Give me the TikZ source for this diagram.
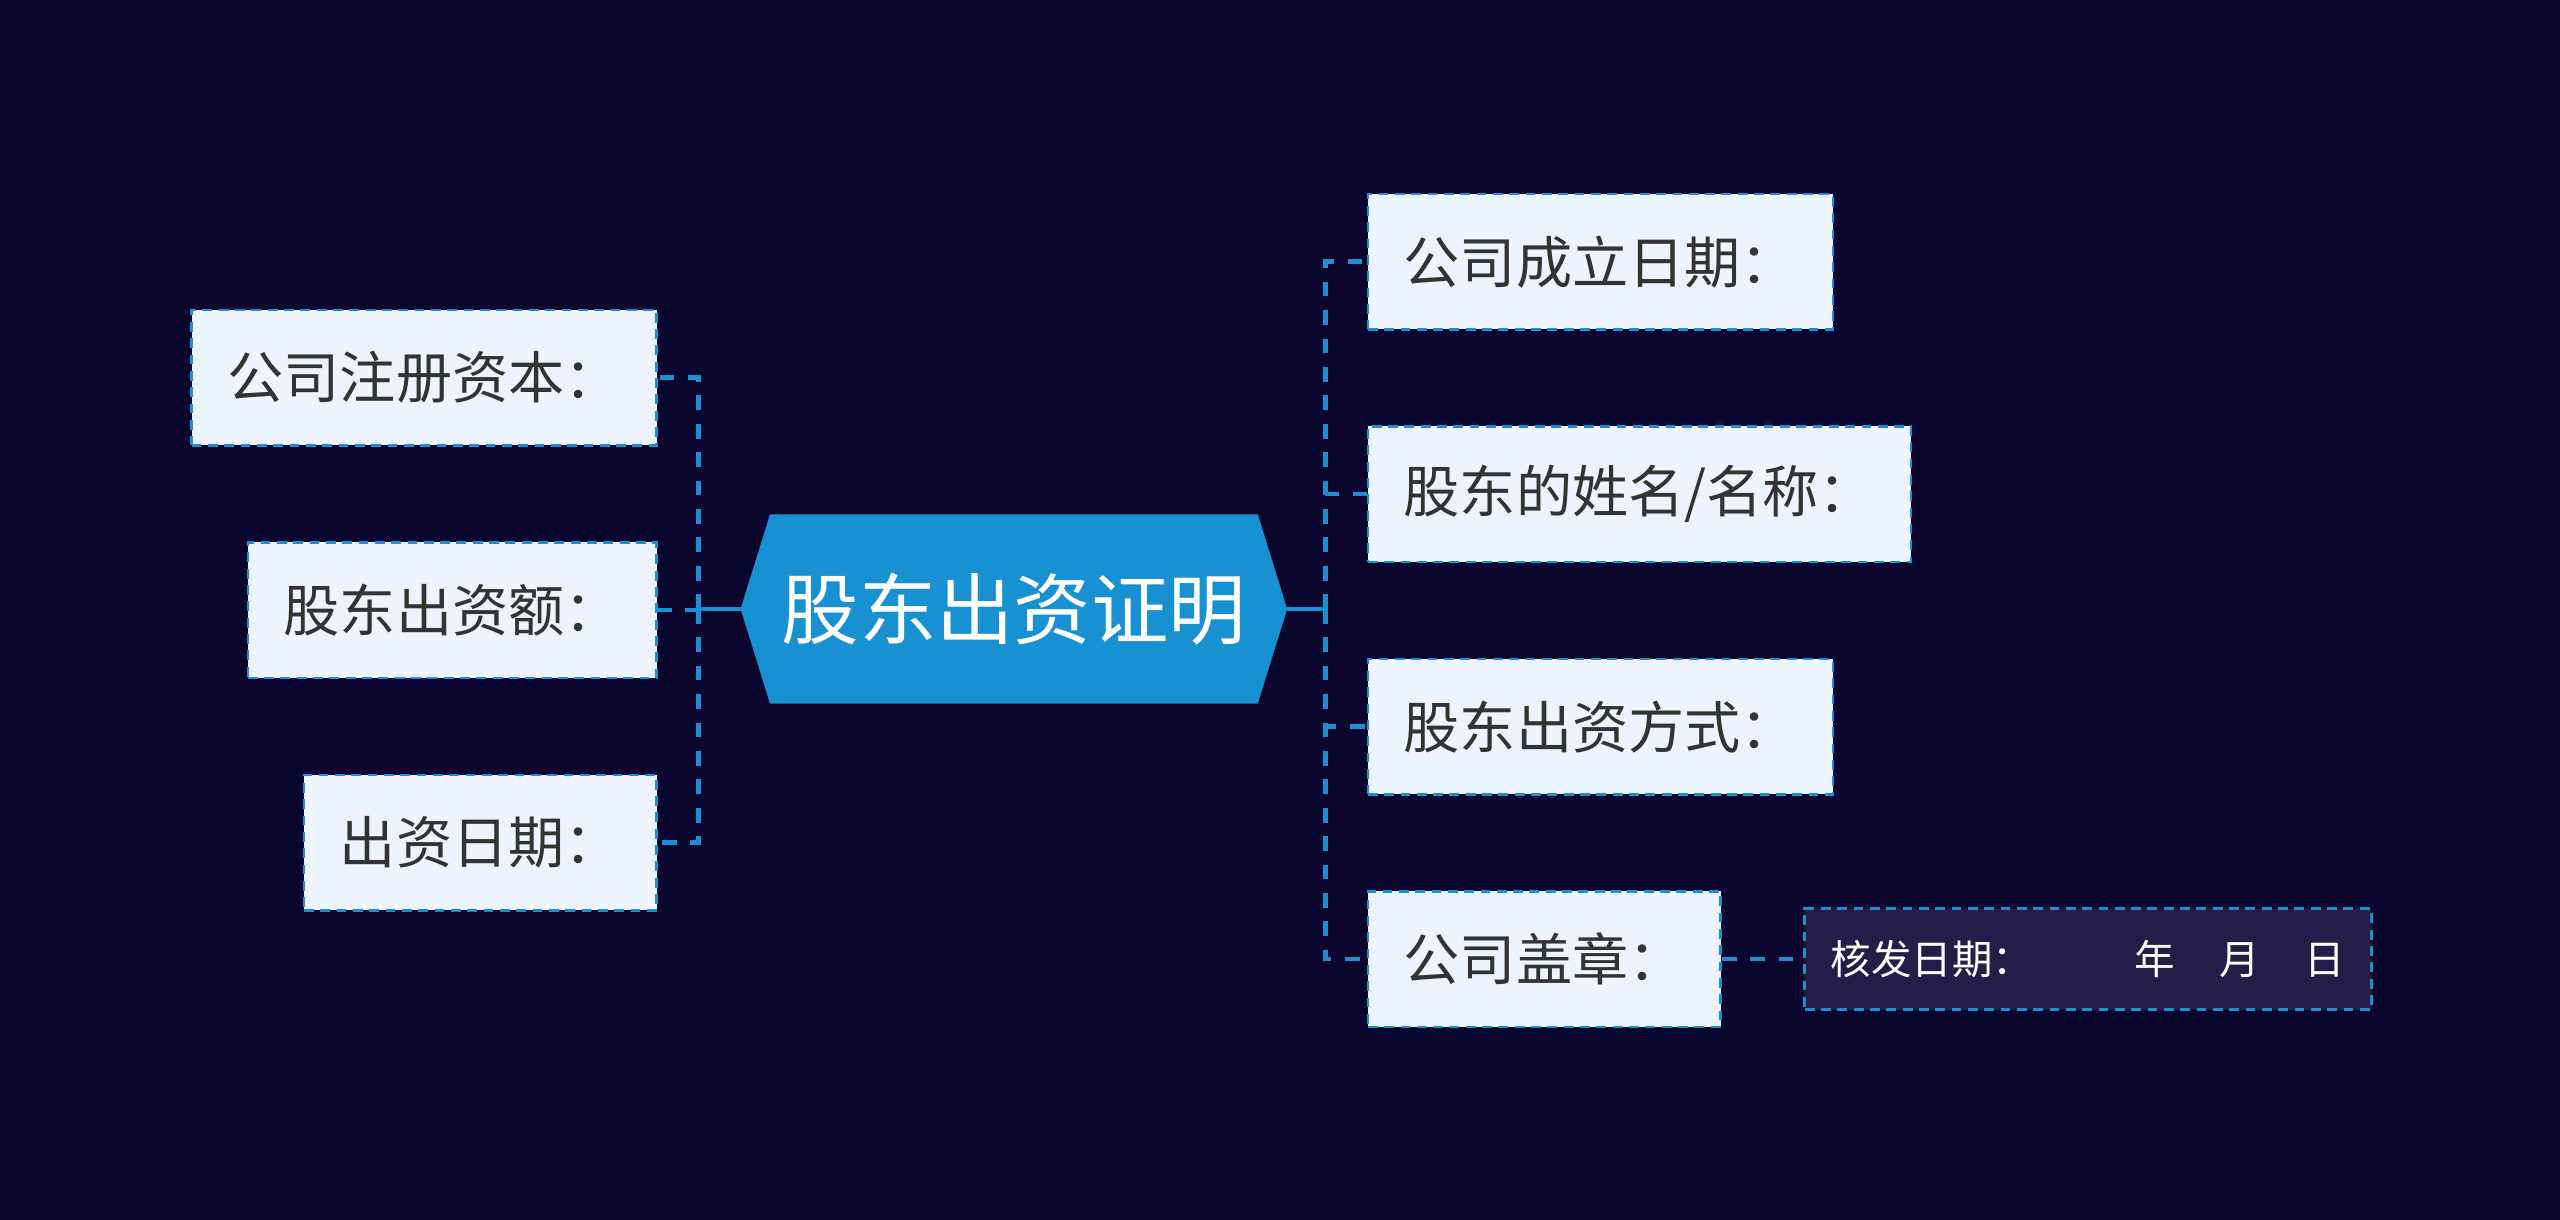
\documentclass[tikz,border=0pt]{standalone}
\usepackage{fontspec}
\setmainfont{Noto Sans CJK SC}
\usetikzlibrary{positioning,backgrounds}
\definecolor{bgnavy}{HTML}{0A062E}
\definecolor{linkblue}{HTML}{1A8FD4}
\definecolor{leaffill}{HTML}{EEF4FD}
\definecolor{leaftext}{HTML}{333333}
\definecolor{rootfill}{HTML}{1891D2}
\definecolor{notefill}{HTML}{221E48}
\tikzset{
  root/.style={rectangle,minimum width=149pt,minimum height=57.5pt,inner sep=0pt,
    text=white,font=\fontsize{23.7}{28}\selectfont},
  leaf/.style={rectangle,draw=linkblue,fill=leaffill,text=leaftext,line width=0.8pt,
    dash pattern=on 3pt off 2pt,minimum height=41.5pt,inner xsep=11pt,
    font=\fontsize{17.2}{20}\selectfont},
  note/.style={rectangle,draw=linkblue,fill=notefill,text=white,line width=0.8pt,
    dash pattern=on 3pt off 2pt,minimum height=31pt,inner xsep=8pt,
    font=\fontsize{12.4}{15}\selectfont},
  link/.style={draw=linkblue,line width=1.4pt,dash pattern=on 4.5pt off 4.2pt},
  stem/.style={draw=linkblue,line width=1.4pt}
}

\begin{document}
\begin{tikzpicture}[x=0.5pt,y=-0.5pt]
  \useasboundingbox (0,0) rectangle (1568,747);
  \node[root] (root) at (621,373) {股东出资证明};
  \coordinate (rootW) at ([xshift=-9pt]root.west);
  \coordinate (rootE) at ([xshift=9pt]root.east);
  \coordinate (lj) at (428,373);
  \coordinate (rj) at (812,373);

  % left side
  \node[leaf,anchor=north east] (capital) at (403,189) {公司注册资本：};
  \node[leaf,below=28.9pt of capital.south east,anchor=north east] (amount) {股东出资额：};
  \node[leaf,below=28.9pt of amount.south east,anchor=north east] (paydate) {出资日期：};

  % right side
  \node[leaf,anchor=north west] (founded) at (837,118) {公司成立日期：};
  \node[leaf,below=28.9pt of founded.south west,anchor=north west] (holder) {股东的姓名/名称：};
  \node[leaf,below=28.9pt of holder.south west,anchor=north west] (method) {股东出资方式：};
  \node[leaf,below=28.9pt of method.south west,anchor=north west] (seal) {公司盖章：};
  \node[note,right=25pt of seal] (issued) {核发日期：\hspace{2.5em}年\hspace{1.1em}月\hspace{1.1em}日};

  \begin{scope}[on background layer]
    \fill[bgnavy] (0,0) rectangle (1568,747);
    \fill[rootfill] (root.north west) -- (root.north east) -- (rootE)
      -- (root.south east) -- (root.south west) -- (rootW) -- cycle;
  \end{scope}

  \draw[stem] (rootW) -- (lj);
  \draw[stem] (rootE) -- (rj);
  \foreach \leaf in {capital,amount,paydate}
    \draw[link] (lj) |- (\leaf.east);
  \foreach \leaf in {founded,holder,method,seal}
    \draw[link] (rj) |- (\leaf.west);
  \draw[link] (seal) -- (issued);
\end{tikzpicture}
\end{document}
